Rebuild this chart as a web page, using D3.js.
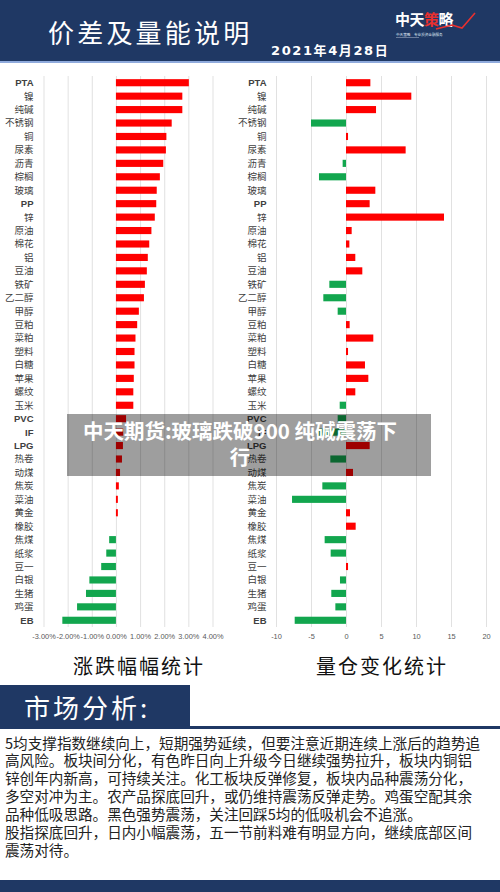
<!DOCTYPE html>
<html>
<head>
<meta charset="utf-8">
<script src="https://cdn.jsdelivr.net/npm/d3@7"></script>
<style>
html,body{margin:0;padding:0;background:#fff;}
svg{display:block;}
</style>
</head>
<body>
<svg id="c" width="500" height="892"></svg>
<script>
// ---- data ----
const categories = ["PTA","镍","纯碱","不锈钢","铜","尿素","沥青","棕榈","玻璃","PP","锌","原油","棉花","铝","豆油","铁矿","乙二醇","甲醇","豆粕","菜粕","塑料","白糖","苹果","螺纹","玉米","PVC","IF","LPG","热卷","动煤","焦炭","菜油","黄金","橡胶","焦煤","纸浆","豆一","白银","生猪","鸡蛋","EB"];
const changePct = [3.02,2.75,2.75,2.31,2.09,2.07,1.96,1.82,1.69,1.67,1.61,1.47,1.38,1.32,1.28,1.20,1.16,0.95,0.88,0.81,0.77,0.77,0.74,0.72,0.72,0.42,0.30,0.29,0.25,0.17,0.12,0.08,0.08,0.00,-0.28,-0.40,-0.61,-1.10,-1.24,-1.61,-2.22];
const oiChange = [3.48,9.33,4.29,-5.0,0.29,8.52,-0.48,-3.86,4.19,3.38,14.0,0.81,0.48,1.33,2.33,-2.38,-3.24,-1.19,0.52,3.9,0.29,2.71,3.19,1.33,-0.9,-1.19,-4.0,3.38,-2.24,1.0,-3.38,-7.71,0.57,1.38,-3.05,-2.19,0.29,-0.86,-2.1,-1.52,-7.33];
const leftTicks = [-3,-2,-1,0,1,2,3,4];
const rightTicks = [-10,-5,0,5,10,15,20];
const headerTitle = "价差及量能说明";
const headerDate = "2021年4月28日";
const leftTitle = "涨跌幅幅统计";
const rightTitle = "量仓变化统计";
const overlayLines = ["中天期货:玻璃跌破900 纯碱震荡下","行"];
const sectionTitle = "市场分析:";
const paragraph = [
 "5均支撑指数继续向上，短期强势延续，但要注意近期连续上涨后的趋势追",
 "高风险。板块间分化，有色昨日向上升级今日继续强势拉升，板块内铜铝",
 "锌创年内新高，可持续关注。化工板块反弹修复，板块内品种震荡分化，",
 "多空对冲为主。农产品探底回升，或仍维持震荡反弹走势。鸡蛋空配其余",
 "品种低吸思路。黑色强势震荡，关注回踩5均的低吸机会不追涨。",
 "股指探底回升，日内小幅震荡，五一节前料难有明显方向，继续底部区间",
 "震荡对待。"
];

const svg = d3.select("#c");
const NAVY = "#1f3864";
const CJK = "'Noto Sans CJK SC','Noto Sans',sans-serif";
const RED = "#ff0000", GREEN = "#12a64e";

// ---- header ----
svg.append("rect").attr("x",0).attr("y",0).attr("width",500).attr("height",61).attr("fill",NAVY);
svg.append("rect").attr("x",0).attr("y",61).attr("width",500).attr("height",2).attr("fill","#8faadc");
svg.append("text").attr("x",48).attr("y",43).attr("fill","#fff")
  .attr("font-family",CJK).attr("font-size",26).attr("letter-spacing",3.2).text(headerTitle);
svg.append("text").attr("x",271).attr("y",55).attr("fill","#fff")
  .attr("font-family","'DejaVu Sans',"+CJK).attr("font-weight","bold").attr("font-size",13).attr("letter-spacing",1.6).text(headerDate);
// logo
const logo = svg.append("g");
logo.append("text").attr("x",395).attr("y",24.5).attr("fill","#fff").attr("font-family",CJK).attr("font-weight","bold").attr("font-size",15).attr("letter-spacing",-0.5)
  .html('中天<tspan fill="#e8302f">策</tspan>略');
logo.append("path").attr("d","M436,29 L452,25 L462,28 L475,13").attr("fill","none").attr("stroke","#e8302f").attr("stroke-width",1.6);
logo.append("text").attr("x",396).attr("y",36).attr("fill","#dfe6f2").attr("font-family",CJK).attr("font-size",3.6).text("中天策略　专业投资金融服务");
logo.append("line").attr("x1",396).attr("x2",419).attr("y1",37.5).attr("y2",37.5).attr("stroke","#dfe6f2").attr("stroke-width",0.4);

// ---- charts ----
const y = d3.scaleBand().domain(categories).range([76,627]).paddingInner(0.47).paddingOuter(0.235);

function drawChart(opts){
  const {x, values, ticks, fmt, labelX} = opts;
  const g = svg.append("g");
  // gridlines
  g.append("g").attr("transform","translate(0,627)")
    .call(d3.axisBottom(x).tickValues(ticks).tickSize(-551).tickFormat(""))
    .call(s=>s.select(".domain").remove())
    .call(s=>s.selectAll("line").attr("stroke","#d9d9d9").attr("stroke-width",0.8));
  // tick labels
  g.append("g").attr("transform","translate(0,631)")
    .call(d3.axisBottom(x).tickValues(ticks).tickSize(0).tickFormat(fmt))
    .call(s=>s.select(".domain").remove())
    .call(s=>s.selectAll("text").attr("fill","#595959").attr("font-size",7.4).attr("font-family","'Liberation Sans',Arial,sans-serif"));
  // bars
  g.selectAll("rect.bar").data(categories).join("rect").attr("class","bar")
    .attr("x",(d,i)=>x(Math.min(0,values[i])))
    .attr("width",(d,i)=>Math.abs(x(values[i])-x(0)))
    .attr("y",d=>y(d)).attr("height",y.bandwidth())
    .attr("fill",(d,i)=>values[i]>=0?RED:GREEN);
  // category labels
  g.selectAll("text.cat").data(categories).join("text").attr("class","cat")
    .attr("x",labelX).attr("y",d=>y(d)+y.bandwidth()/2).attr("dy","0.36em")
    .attr("text-anchor","end").attr("fill","#404040")
    .attr("font-family",d=>/^[A-Z]+$/.test(d)?"'Liberation Sans',Arial,sans-serif":CJK)
    .attr("font-weight",d=>/^[A-Z]+$/.test(d)?"bold":"normal")
    .attr("font-size",9.5).text(d=>d);
}
const xL = d3.scaleLinear().domain([-3,4]).range([43.5,212.5]);
drawChart({x:xL, values:changePct, ticks:leftTicks, fmt:d=>d.toFixed(2)+"%", labelX:33.5});
const xR = d3.scaleLinear().domain([-10,20]).range([276,486]);
drawChart({x:xR, values:oiChange, ticks:rightTicks, fmt:d=>String(d), labelX:266.5});

// ---- overlay headline ----
svg.append("rect").attr("x",67).attr("y",414).attr("width",364).attr("height",62).attr("fill","rgba(0,0,0,0.38)");
svg.selectAll("text.ov").data(overlayLines).join("text").attr("class","ov")
  .attr("x",240).attr("y",(d,i)=>439+i*26).attr("text-anchor","middle").attr("fill","#fff")
  .attr("font-family",CJK).attr("font-weight","bold").attr("font-size",20.5).text(d=>d);

// ---- chart titles ----
svg.append("text").attr("x",139).attr("y",674).attr("text-anchor","middle").attr("fill","#111")
  .attr("font-family",CJK).attr("font-size",20).attr("letter-spacing",2).text(leftTitle);
svg.append("text").attr("x",382).attr("y",674).attr("text-anchor","middle").attr("fill","#111")
  .attr("font-family",CJK).attr("font-size",20).attr("letter-spacing",2).text(rightTitle);

// ---- market analysis ----
svg.append("rect").attr("x",0).attr("y",685).attr("width",190).attr("height",43).attr("fill",NAVY);
svg.append("rect").attr("x",0).attr("y",726).attr("width",500).attr("height",3).attr("fill",NAVY);
svg.append("text").attr("x",24).attr("y",718).attr("fill","#fff").attr("font-family",CJK).attr("font-size",26).attr("letter-spacing",3).text(sectionTitle);
svg.selectAll("text.para").data(paragraph).join("text").attr("class","para")
  .attr("x",5).attr("y",(d,i)=>748.5+i*17.9).attr("fill","#222")
  .attr("font-family",CJK).attr("font-size",14.6).text(d=>d);
svg.append("rect").attr("x",0).attr("y",880).attr("width",500).attr("height",12).attr("fill",NAVY);
</script>
</body>
</html>
